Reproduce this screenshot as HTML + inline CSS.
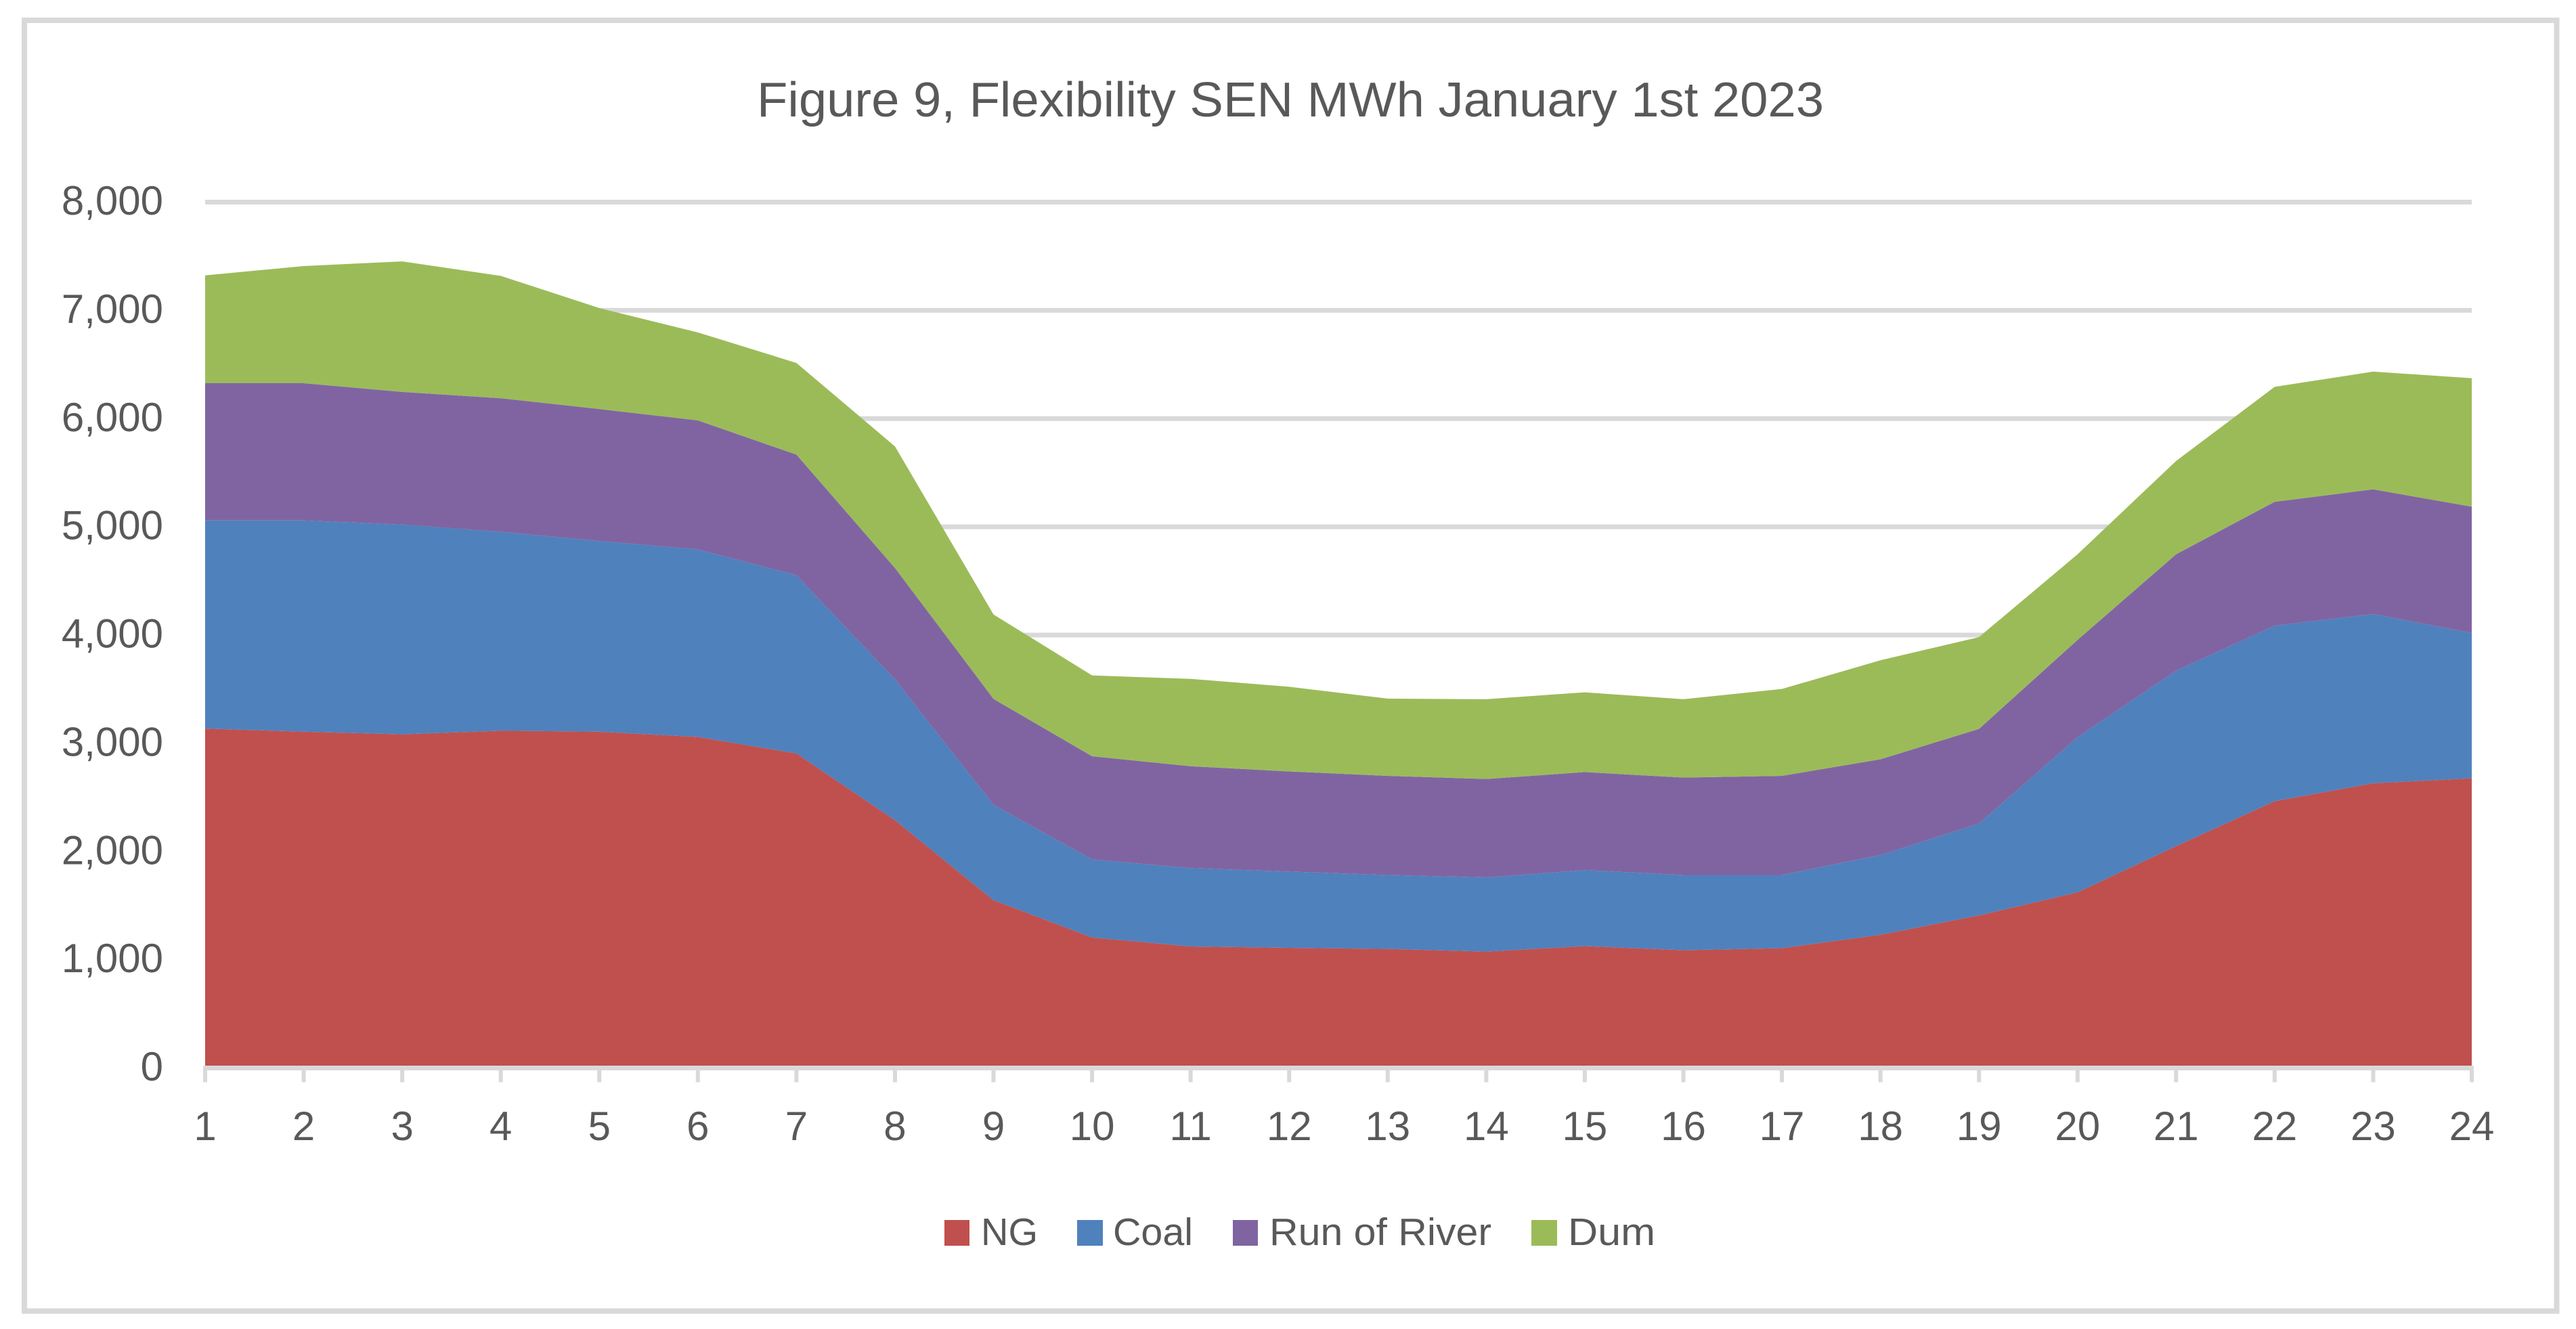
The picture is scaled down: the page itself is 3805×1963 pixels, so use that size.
<!DOCTYPE html>
<html lang="en">
<head>
<meta charset="utf-8">
<title>Figure 9, Flexibility SEN MWh January 1st 2023</title>
<style>
  html, body { margin: 0; padding: 0; background: #ffffff; }
  body { width: 3805px; height: 1963px; overflow: hidden; }
  svg { display: block; font-family: "Liberation Sans", sans-serif; fill: #595959; }
</style>
</head>
<body>
<svg id="chart" xmlns="http://www.w3.org/2000/svg" width="3805" height="1963" viewBox="0 0 3805 1963">
  <rect x="0" y="0" width="3805" height="1963" fill="#ffffff"/>
  <rect x="36" y="30" width="3740.5" height="1906.5" fill="none" stroke="#d9d9d9" stroke-width="8"/>
  <text x="1118" y="172" font-size="72" textLength="1576" lengthAdjust="spacingAndGlyphs">Figure 9, Flexibility SEN MWh January 1st 2023</text>
  <g id="grid"></g>
  <g id="areas"></g>
  <g id="x-axis"></g>
  <g id="y-axis"></g>
  <g font-size="57">
    <g>
      <rect x="1395" y="1802" width="37" height="38" fill="#c0504d"/>
      <text x="1449" y="1839" textLength="84" lengthAdjust="spacingAndGlyphs">NG</text>
    </g>
    <g>
      <rect x="1591" y="1802" width="38" height="38" fill="#4f81bd"/>
      <text x="1644" y="1839" textLength="118" lengthAdjust="spacingAndGlyphs">Coal</text>
    </g>
    <g>
      <rect x="1821" y="1802" width="37" height="38" fill="#8064a2"/>
      <text x="1875" y="1839" textLength="328" lengthAdjust="spacingAndGlyphs">Run of River</text>
    </g>
    <g>
      <rect x="2262" y="1802" width="38" height="38" fill="#9bbb59"/>
      <text x="2316" y="1839" textLength="129" lengthAdjust="spacingAndGlyphs">Dum</text>
    </g>
  </g>
</svg>
<script>
const hours = [1,2,3,4,5,6,7,8,9,10,11,12,13,14,15,16,17,18,19,20,21,22,23,24];
const yTickValues = [0,1000,2000,3000,4000,5000,6000,7000,8000];
const yTickLabels = ["0","1,000","2,000","3,000","4,000","5,000","6,000","7,000","8,000"];
const ngValues = [3136,3107,3083,3116,3107,3059,2906,2289,1550,1206,1123,1110,1100,1075,1126,1088,1107,1231,1410,1623,2050,2465,2631,2676];
const coalValues = [1923,1952,1938,1838,1761,1732,1646,1301,881,721,724,705,683,686,702,695,676,737,848,1433,1621,1621,1563,1343];
const runOfRiverValues = [1268,1268,1225,1234,1220,1192,1115,1029,979,953,941,925,916,909,906,900,916,884,875,899,1075,1145,1152,1167];
const dumValues = [996,1082,1206,1130,933,813,847,1124,780,747,807,782,714,737,737,724,803,915,848,791,862,1062,1088,1187];

const SVG_NS = "http://www.w3.org/2000/svg";
const plotLeft = 303, plotRight = 3651, plotBottom = 1577.5, plotTop = 298.5, yMax = 8000;
const xScale = (i) => plotLeft + (plotRight - plotLeft) * i / (hours.length - 1);
const yScale = (v) => plotBottom - (plotBottom - plotTop) * v / yMax;

function make(tag, parent) {
  const el = document.createElementNS(SVG_NS, tag);
  parent.appendChild(el);
  return el;
}
function setLine(el, x1, y1, x2, y2, width) {
  el.setAttribute("x1", x1);
  el.setAttribute("y1", y1);
  el.setAttribute("x2", x2);
  el.setAttribute("y2", y2);
  el.setAttribute("stroke", "#d9d9d9");
  el.setAttribute("stroke-width", width);
}

const gridGroup = document.getElementById("grid");
yTickValues.forEach((v) => {
  if (v === 0) return;
  const line = make("line", gridGroup);
  
  
  setLine(line, plotLeft, yScale(v), plotRight, yScale(v), 7);
});

const areasGroup = document.getElementById("areas");
const seriesList = [
  { key: "ng", values: ngValues, color: "#c0504d" },
  { key: "coal", values: coalValues, color: "#4f81bd" },
  { key: "run-of-river", values: runOfRiverValues, color: "#8064a2" },
  { key: "dum", values: dumValues, color: "#9bbb59" }
];
let baseline = hours.map(() => 0);
seriesList.forEach((s) => {
  const tops = s.values.map((v, i) => baseline[i] + v);
  const upper = tops.map((v, i) => xScale(i).toFixed(2) + "," + yScale(v).toFixed(2));
  const lower = baseline.map((v, i) => xScale(i).toFixed(2) + "," + yScale(v).toFixed(2)).reverse();
  const poly = make("polygon", areasGroup);
  
  
  poly.setAttribute("points", upper.concat(lower).join(" "));
  poly.setAttribute("fill", s.color);
  baseline = tops;
});

const xAxisGroup = document.getElementById("x-axis");
const axisLine = make("line", xAxisGroup);


setLine(axisLine, plotLeft - 3, plotBottom, plotRight + 3, plotBottom, 7);
hours.forEach((h, i) => {
  const tick = make("line", xAxisGroup);
  
  
  setLine(tick, xScale(i), plotBottom, xScale(i), 1598.5, 6);
  const label = make("text", xAxisGroup);
  
  
  label.setAttribute("x", xScale(i));
  label.setAttribute("y", 1684);
  label.setAttribute("font-size", 60);
  label.setAttribute("text-anchor", "middle");
  label.textContent = String(h);
});

const yAxisGroup = document.getElementById("y-axis");
yTickValues.forEach((v, i) => {
  const label = make("text", yAxisGroup);
  
  
  label.setAttribute("x", 241);
  label.setAttribute("y", yScale(v) + 18.5);
  label.setAttribute("font-size", 60);
  label.setAttribute("text-anchor", "end");
  label.textContent = yTickLabels[i];
});
</script>
</body>
</html>
